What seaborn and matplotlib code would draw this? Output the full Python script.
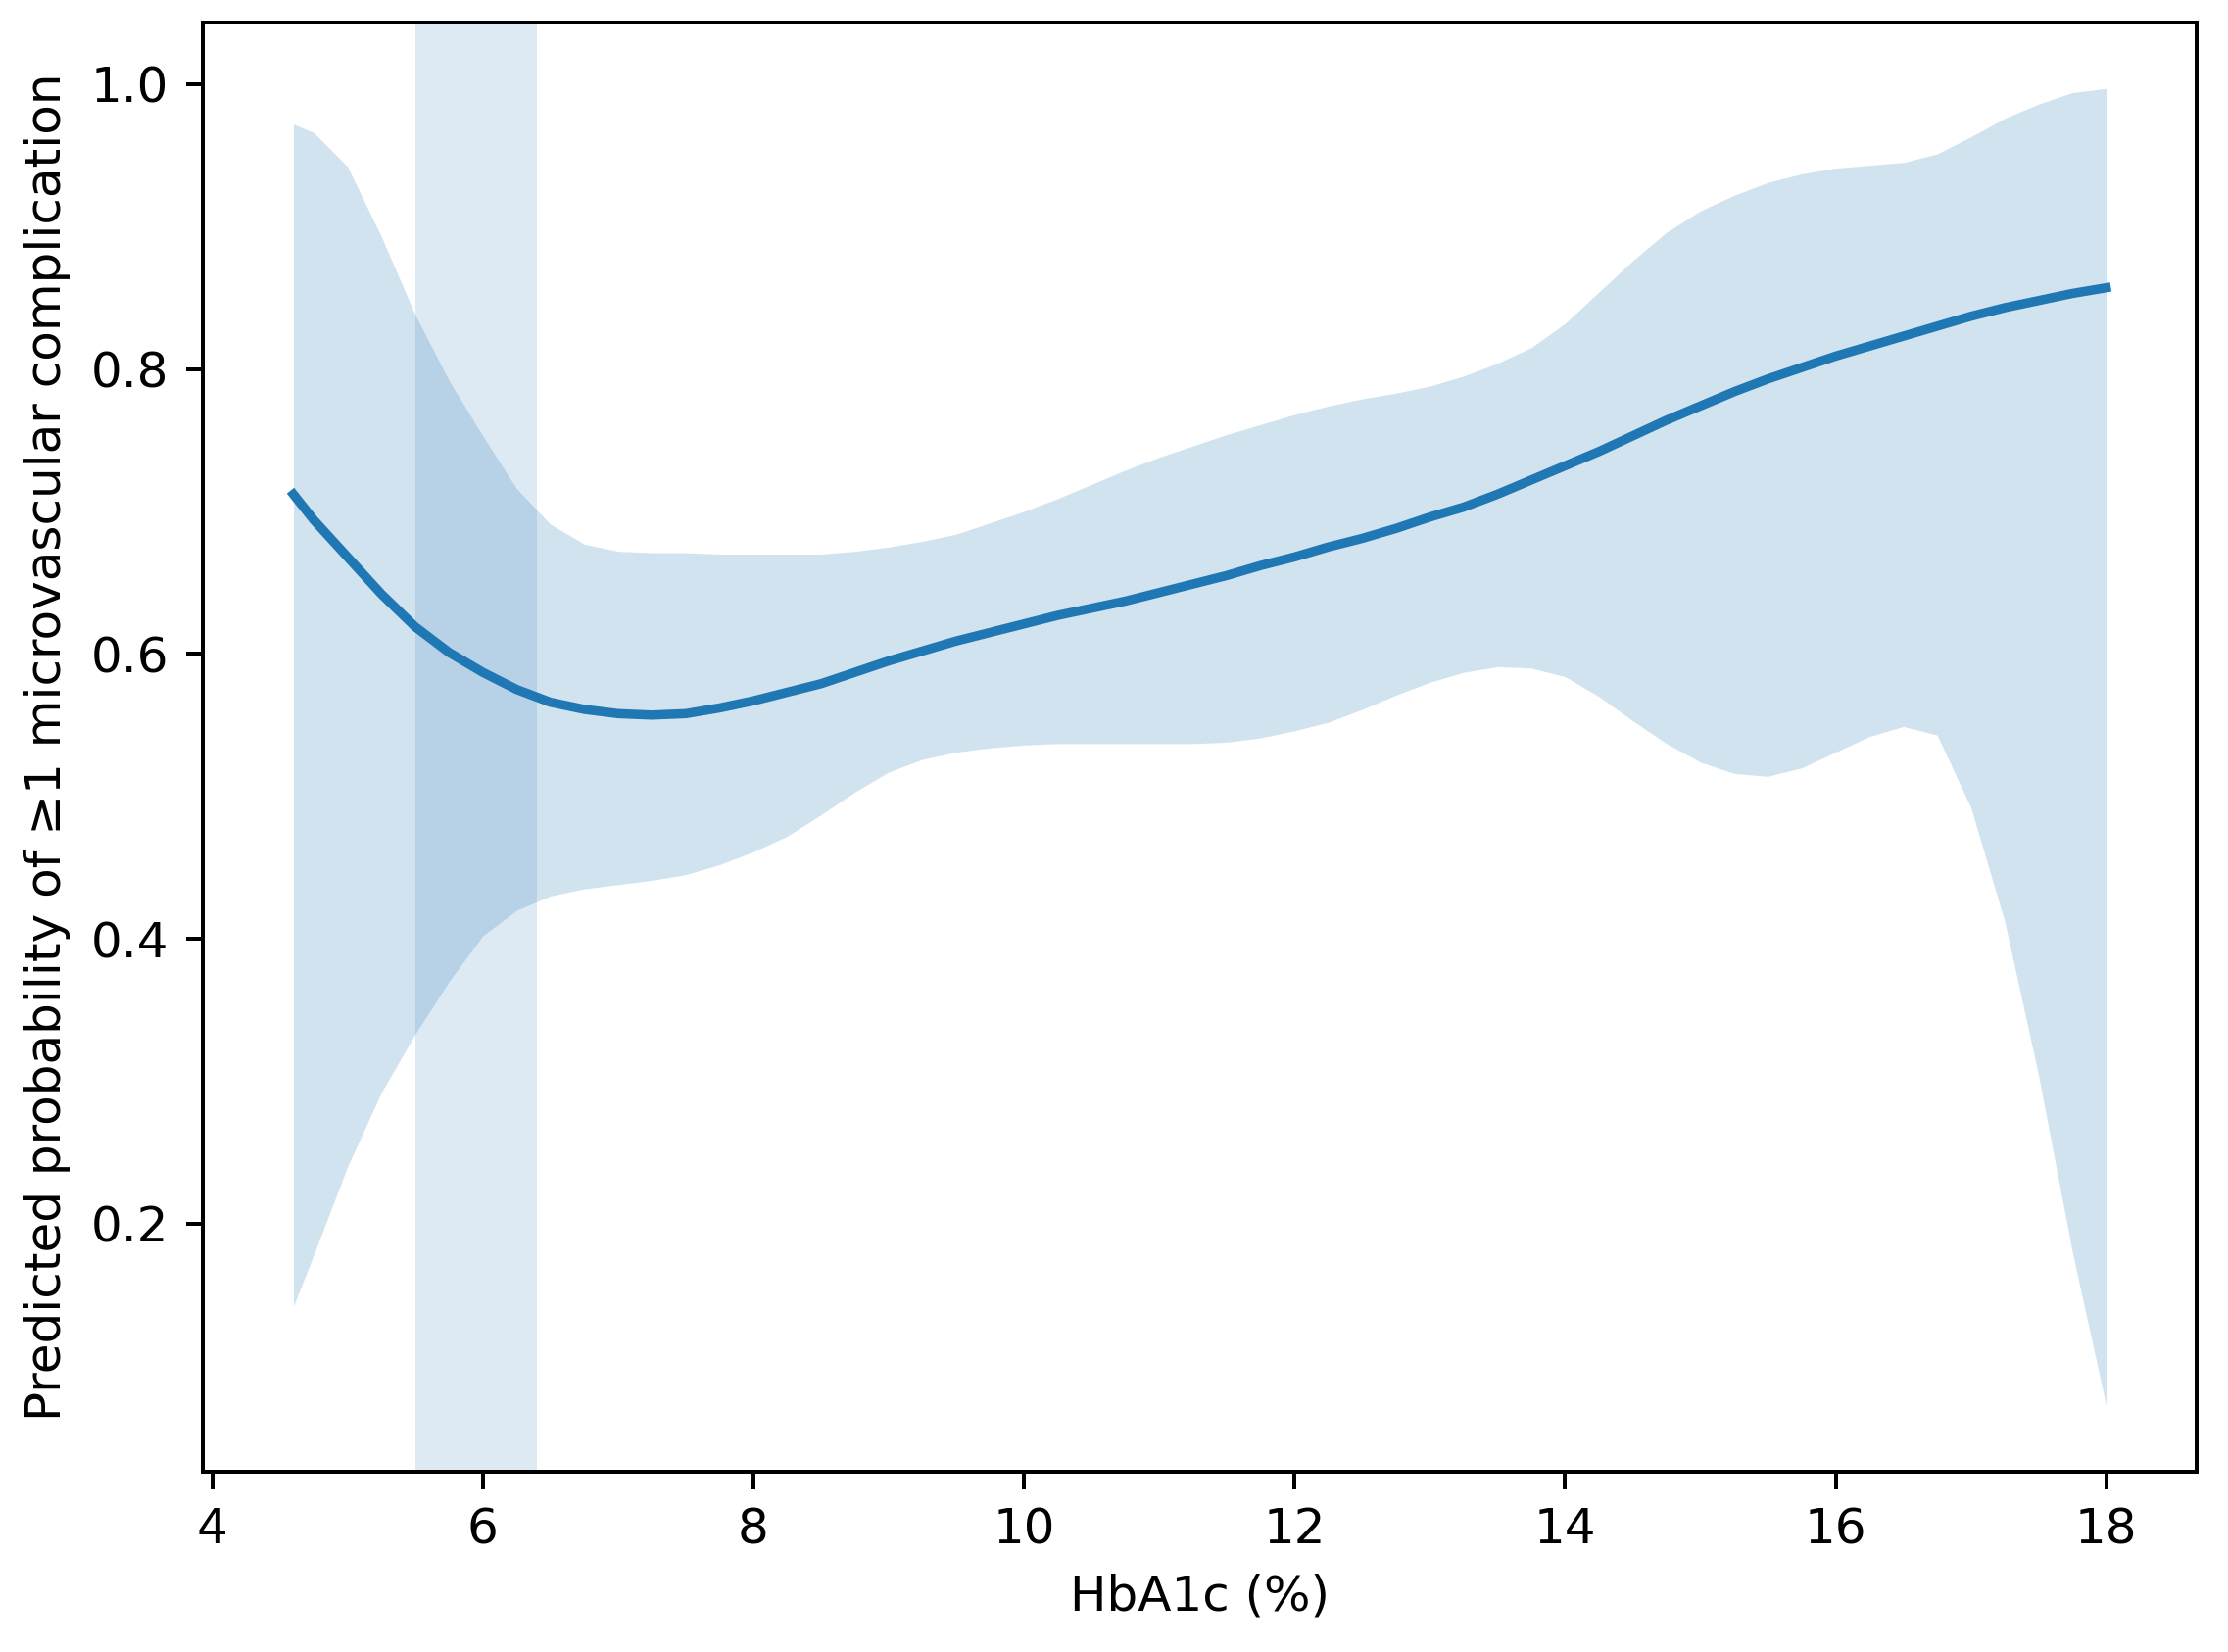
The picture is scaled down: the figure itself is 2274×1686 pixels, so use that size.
import matplotlib
matplotlib.use("Agg")
import matplotlib.pyplot as plt
import seaborn as sns
import pandas as pd

# HbA1c grid and predicted probability with 95% CI
hba1c = [4.6, 4.75, 5.0, 5.25, 5.5, 5.75, 6.0, 6.25, 6.5, 6.75, 7.0, 7.25, 7.5, 7.75,
         8.0, 8.25, 8.5, 8.75, 9.0, 9.25, 9.5, 9.75, 10.0, 10.25, 10.5, 10.75, 11.0,
         11.25, 11.5, 11.75, 12.0, 12.25, 12.5, 12.75, 13.0, 13.25, 13.5, 13.75, 14.0,
         14.25, 14.5, 14.75, 15.0, 15.25, 15.5, 15.75, 16.0, 16.25, 16.5, 16.75, 17.0,
         17.25, 17.5, 17.75, 18.0]
prob = [0.712, 0.694, 0.668, 0.642, 0.619, 0.601, 0.587, 0.575, 0.566, 0.561, 0.558,
        0.557, 0.558, 0.562, 0.567, 0.573, 0.579, 0.587, 0.595, 0.602, 0.609, 0.615,
        0.621, 0.627, 0.632, 0.637, 0.643, 0.649, 0.655, 0.662, 0.668, 0.675, 0.681,
        0.688, 0.696, 0.703, 0.712, 0.722, 0.732, 0.742, 0.753, 0.764, 0.774, 0.784,
        0.793, 0.801, 0.809, 0.816, 0.823, 0.830, 0.837, 0.843, 0.848, 0.853, 0.857]
ci_upper = [0.972, 0.966, 0.942, 0.893, 0.838, 0.792, 0.753, 0.716, 0.691, 0.677, 0.672,
            0.671, 0.671, 0.670, 0.670, 0.670, 0.670, 0.672, 0.675, 0.679, 0.684, 0.692,
            0.700, 0.709, 0.719, 0.729, 0.738, 0.746, 0.754, 0.761, 0.768, 0.774, 0.779,
            0.783, 0.788, 0.795, 0.804, 0.815, 0.832, 0.854, 0.876, 0.896, 0.911, 0.922,
            0.931, 0.937, 0.941, 0.943, 0.945, 0.951, 0.963, 0.976, 0.986, 0.994, 0.997]
ci_lower = [0.142, 0.178, 0.240, 0.292, 0.333, 0.370, 0.402, 0.420, 0.430, 0.435, 0.438,
            0.441, 0.445, 0.452, 0.461, 0.472, 0.487, 0.503, 0.517, 0.526, 0.531, 0.534,
            0.536, 0.537, 0.537, 0.537, 0.537, 0.537, 0.538, 0.541, 0.546, 0.552, 0.561,
            0.571, 0.580, 0.587, 0.591, 0.590, 0.584, 0.570, 0.553, 0.537, 0.524, 0.516,
            0.514, 0.520, 0.531, 0.542, 0.549, 0.543, 0.492, 0.412, 0.304, 0.180, 0.072]

# shaded reference range of HbA1c
ref_range = (5.5, 6.4)

df = pd.DataFrame({"hba1c": hba1c, "prob": prob, "lo": ci_lower, "hi": ci_upper})

blue = "#1f77b4"

fig, ax = plt.subplots(figsize=(2274 / 360, 1686 / 360), dpi=360)
fig.subplots_adjust(left=0.091, right=0.986, top=0.9864, bottom=0.1091)

ax.fill_between(df["hba1c"], df["lo"], df["hi"], color=blue, alpha=0.2, linewidth=0)
sns.lineplot(data=df, x="hba1c", y="prob", color=blue, linewidth=1.9, errorbar=None, ax=ax)
ax.axvspan(ref_range[0], ref_range[1], color=blue, alpha=0.15, linewidth=0)

ax.set_xticks([4, 6, 8, 10, 12, 14, 16, 18])
ax.set_yticks([0.2, 0.4, 0.6, 0.8, 1.0])
ax.set_xlabel("HbA1c (%)")
ax.set_ylabel("Predicted probability of \u22651 microvascular complication")

fig.savefig("out.png", dpi=360)
